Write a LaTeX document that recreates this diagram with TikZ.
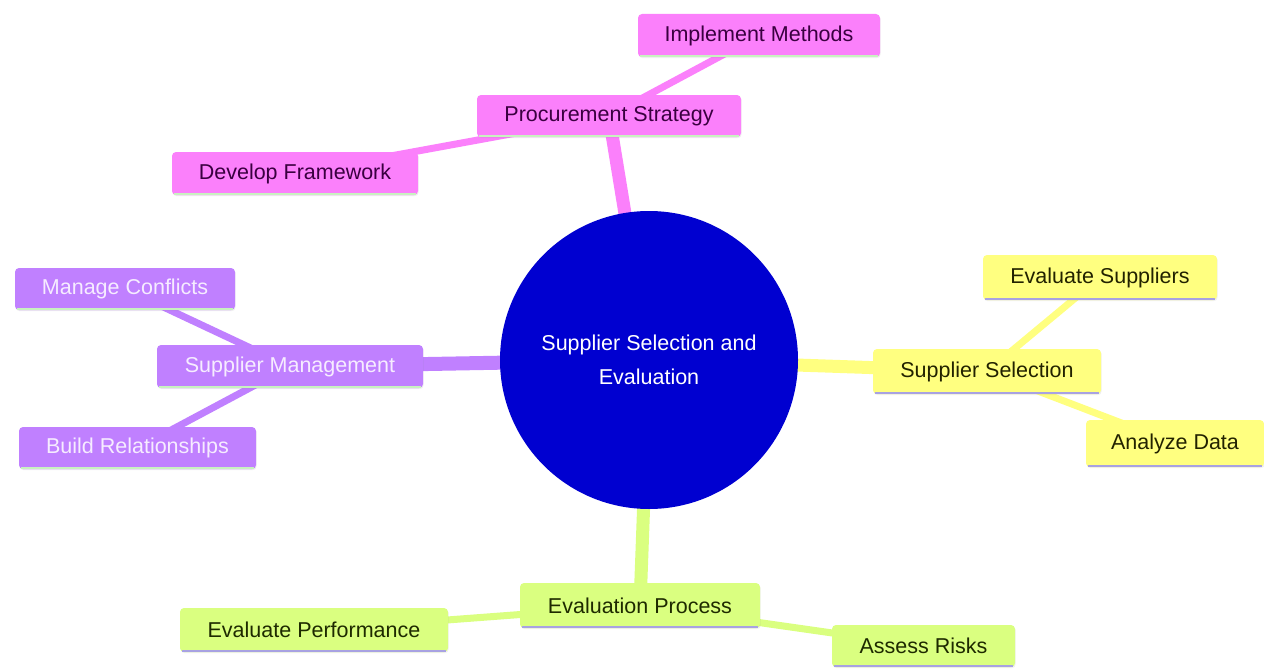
\documentclass[tikz,border=0pt]{standalone}
\usepackage{fontspec}
\setmainfont{Liberation Sans}
\usetikzlibrary{shadows}
\definecolor{pinkf}{HTML}{FB80FB}
\definecolor{pinkt}{HTML}{3A0040}
\definecolor{purpf}{HTML}{C080FF}
\definecolor{purpt}{HTML}{F6ECFF}
\definecolor{yelf}{HTML}{FFFF80}
\definecolor{yelt}{HTML}{222200}
\definecolor{grnf}{HTML}{DAFF80}
\definecolor{grnt}{HTML}{1E2A00}
\definecolor{rootf}{HTML}{0000D0}
\definecolor{lgreen}{HTML}{C8F2C0}
\definecolor{lav}{HTML}{A8A2E2}
\begin{document}
\begin{tikzpicture}[x=1pt,y=-1pt,
  every node/.style={font=\fontsize{21.5}{34}\selectfont},
  box/.style={rectangle,rounded corners=4pt,inner sep=0pt,
     drop shadow={shadow xshift=0.6pt,shadow yshift=-1.2pt,opacity=0.12}},
  pinkbox/.style={box,fill=pinkf,text=pinkt},
  purpbox/.style={box,fill=purpf,text=purpt},
  yelbox/.style={box,fill=yelf,text=yelt},
  grnbox/.style={box,fill=grnf,text=grnt},
]
\useasboundingbox (0,0) rectangle (1264,669);
\fill[white] (0,0) rectangle (1264,669);

% coordinates (centres)
\coordinate (cRoot) at (649,360);
\coordinate (cProc) at (609,116);
\coordinate (cImpl) at (759,35.5);
\coordinate (cDev) at (295,173.5);
\coordinate (cSM) at (290,366.5);
\coordinate (cMC) at (125,289);
\coordinate (cBR) at (137.5,448);
\coordinate (cSS) at (987,371.5);
\coordinate (cES) at (1100,277.5);
\coordinate (cAD) at (1175,443.5);
\coordinate (cEP) at (640,605.5);
\coordinate (cEPF) at (314,630);
\coordinate (cAR) at (923.5,646);

% edges
\draw[pinkf,line width=7pt] (cProc) -- (cImpl);
\draw[pinkf,line width=7pt] (cProc) -- (cDev);
\draw[pinkf,line width=13pt] (cRoot) -- (cProc);
\draw[purpf,line width=7pt] (cSM) -- (cMC);
\draw[purpf,line width=7pt] (cSM) -- (cBR);
\draw[purpf,line width=14pt] (cRoot) -- (cSM);
\draw[yelf,line width=7pt] (cSS) -- (cES);
\draw[yelf,line width=7pt] (cSS) -- (cAD);
\draw[yelf,line width=13pt] (cRoot) -- (cSS);
\draw[grnf,line width=7pt] (cEP) -- (cEPF);
\draw[grnf,line width=7pt] (cEP) -- (cAR);
\draw[grnf,line width=13pt] (cRoot) -- (cEP);

% nodes
\node[pinkbox,minimum width=242pt,minimum height=43pt] (impl) at (cImpl) {Implement Methods};
\node[pinkbox,minimum width=264pt,minimum height=42pt] (proc) at (cProc) {Procurement Strategy};
\node[pinkbox,minimum width=246pt,minimum height=43pt] (dev) at (cDev) {Develop Framework};
\node[purpbox,minimum width=220pt,minimum height=42pt] (mc) at (cMC) {Manage Conflicts};
\node[purpbox,minimum width=266pt,minimum height=43pt] (sm) at (cSM) {Supplier Management};
\node[purpbox,minimum width=237pt,minimum height=42pt] (br) at (cBR) {Build Relationships};
\node[yelbox,minimum width=234pt,minimum height=45pt] (es) at (cES) {Evaluate Suppliers};
\node[yelbox,minimum width=228pt,minimum height=45pt] (ss) at (cSS) {Supplier Selection};
\node[yelbox,minimum width=178pt,minimum height=47pt] (ad) at (cAD) {Analyze Data};
\node[grnbox,minimum width=240pt,minimum height=45pt] (ep) at (cEP) {Evaluation Process};
\node[grnbox,minimum width=268pt,minimum height=44pt] (epf) at (cEPF) {Evaluate Performance};
\node[grnbox,minimum width=183pt,minimum height=42pt] (ar) at (cAR) {Assess Risks};

% bottom borders
\foreach \n in {impl,proc,dev,mc,sm,br}
  \draw[lgreen,line width=2.5pt] ([xshift=2pt,yshift=1.2pt]\n.south west) -- ([xshift=-2pt,yshift=1.2pt]\n.south east);
\foreach \n in {es,ss,ad,ep,epf,ar}
  \draw[lav,line width=2.5pt] ([xshift=2pt,yshift=1.2pt]\n.south west) -- ([xshift=-2pt,yshift=1.2pt]\n.south east);

% root
\node[circle,fill=rootf,minimum size=298pt,inner sep=0pt,text=white,align=center] (root) at (cRoot) {Supplier Selection and\\Evaluation};
\end{tikzpicture}
\end{document}
